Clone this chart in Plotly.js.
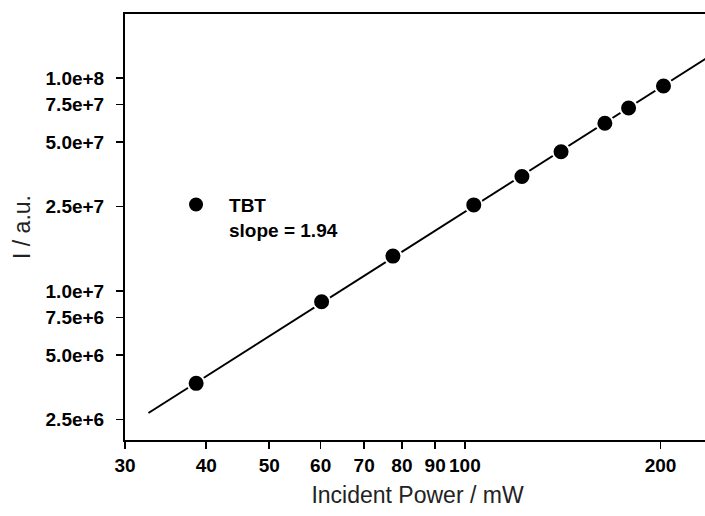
<!DOCTYPE html>
<html>
<head>
<meta charset="utf-8">
<script src="https://cdn.plot.ly/plotly-3.0.1.min.js"></script>
<style>
html,body{margin:0;padding:0;overflow:hidden;background:#fff;}
#chart{width:712px;height:516px;}
</style>
</head>
<body>
<div id="chart"></div>
<script>
// Data
var power = [38.6, 60.2, 77.5, 103.2, 122.4, 140.6, 164.2, 178.6, 202.1];
var intensity = [3.69e6, 8.92e6, 1.46e7, 2.54e7, 3.45e7, 4.51e7, 6.14e7, 7.24e7, 9.18e7];
var fitSlope = 1.94;
var fitPowerRange = [32.6, 240];
var seriesName = "TBT";
var xTickVals = [30, 40, 50, 60, 70, 80, 90, 100, 200];
var xTickText = ["30", "40", "50", "60", "70", "80", "90", "100", "200"];
var yTickVals = [2.5e6, 5e6, 7.5e6, 1e7, 2.5e7, 5e7, 7.5e7, 1e8];
var yTickText = ["2.5e+6", "5.0e+6", "7.5e+6", "1.0e+7", "2.5e+7", "5.0e+7", "7.5e+7", "1.0e+8"];

// Least-squares intercept for the fixed slope in log-log space
var lx = power.map(function(v){return Math.log10(v);});
var ly = intensity.map(function(v){return Math.log10(v);});
var mx = lx.reduce(function(a,b){return a+b;},0)/lx.length;
var my = ly.reduce(function(a,b){return a+b;},0)/ly.length;
var intercept = my - fitSlope*mx;
var fitY = fitPowerRange.map(function(p){return Math.pow(10, intercept + fitSlope*Math.log10(p));});

var FONT = "Liberation Sans, Arial, sans-serif";

var traces = [
  {
    x: fitPowerRange, y: fitY, mode: "lines", type: "scatter",
    line: {color: "#000", width: 2}, showlegend: false, hoverinfo: "skip"
  },
  {
    x: power, y: intensity, mode: "markers", type: "scatter",
    name: seriesName + "<br>slope = " + fitSlope.toFixed(2),
    marker: {color: "#000", size: 17, line: {color: "#fff", width: 2}}
  }
];

var layout = {
  width: 712, height: 516,
  margin: {l: 125, r: 2, t: 14, b: 76},
  paper_bgcolor: "#fff", plot_bgcolor: "#fff",
  font: {family: FONT, color: "#000"},
  showlegend: true,
  legend: {
    x: 0.065, y: 0.597, xanchor: "left", yanchor: "top",
    bgcolor: "rgba(0,0,0,0)", valign: "top", itemwidth: 56,
    font: {family: FONT, size: 19, weight: 700, color: "#000"}
  },
  xaxis: {
    type: "log",
    range: [Math.log10(30), Math.log10(30) + 0.9],
    tickmode: "array", tickvals: xTickVals, ticktext: xTickText,
    ticks: "outside", ticklen: 7, tickwidth: 1.5, tickcolor: "#000",
    showline: true, linecolor: "#000", linewidth: 2, mirror: true,
    showgrid: false, zeroline: false,
    tickfont: {family: FONT, size: 19, weight: 700, color: "#000"},
    title: {text: "Incident Power / mW", font: {family: FONT, size: 23, color: "#222"}, standoff: 12},
    automargin: false
  },
  yaxis: {
    type: "log",
    range: [Math.log10(2e6), Math.log10(2e8)],
    tickmode: "array", tickvals: yTickVals, ticktext: yTickText,
    ticks: "outside", ticklen: 7, tickwidth: 1.5, tickcolor: "#000",
    showline: true, linecolor: "#000", linewidth: 2, mirror: true,
    showgrid: false, zeroline: false,
    tickfont: {family: FONT, size: 19, weight: 700, color: "#000"},
    ticklabelstandoff: 8,
    title: {text: "I / a.u.", font: {family: FONT, size: 23, color: "#222"}, standoff: 8},
    automargin: false
  }
};

Plotly.newPlot("chart", traces, layout, {displayModeBar: false, staticPlot: true});
</script>
</body>
</html>
